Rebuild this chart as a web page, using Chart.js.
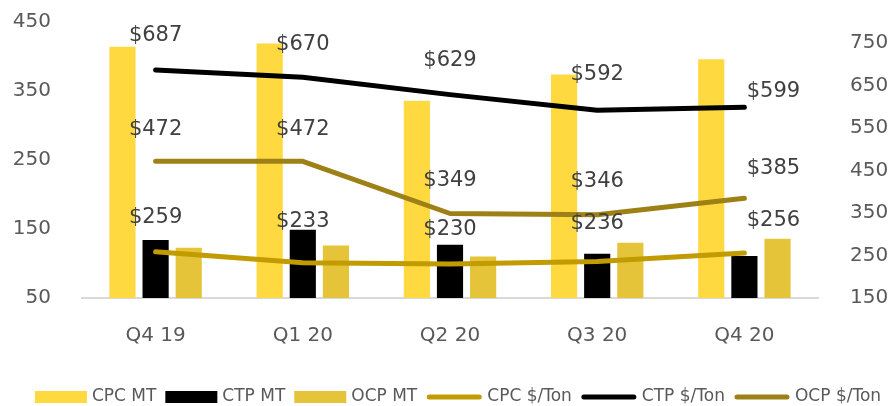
<!DOCTYPE html>
<html>
<head>
<meta charset="utf-8">
<script src="https://cdn.jsdelivr.net/npm/chart.js@4/dist/chart.umd.min.js"></script>
<style>
html,body{margin:0;padding:0;background:#fff;}
#wrap{width:893px;height:406px;position:relative;}
</style>
</head>
<body>
<div id="wrap"><canvas id="c"></canvas></div>
<script>
const categories = ['Q4 19', 'Q1 20', 'Q2 20', 'Q3 20', 'Q4 20'];
const cpcMT = [414, 419, 336, 374, 396];
const ctpMT = [134, 149, 127, 114, 111];
const ocpMT = [123, 126, 110, 130, 136];
const cpcTon = [259, 233, 230, 236, 256];
const ctpTon = [687, 670, 629, 592, 599];
const ocpTon = [472, 472, 349, 346, 385];
const leftTicks = [50, 150, 250, 350, 450];
const rightTicks = [150, 250, 350, 450, 550, 650, 750];

const FONT = "'DejaVu Sans', sans-serif";
const GREY = '#595959';

// label vertical offsets (styling only)
const labelStyle = {
  'CPC $/Ton': {dy: [34, 41, 34, 38, 32]},
  'CTP $/Ton': {dy: [34, 33, 34, 36, 16]},
  'OCP $/Ton': {dy: [32, 32, 33, 33, 30]}
};

const dataLabels = {
  id: 'dataLabels',
  afterDatasetsDraw(chart) {
    const ctx = chart.ctx;
    ctx.save();
    ctx.font = '21px ' + FONT;
    ctx.fillStyle = '#404040';
    ctx.textAlign = 'center';
    ctx.textBaseline = 'middle';
    chart.data.datasets.forEach((ds, i) => {
      if (ds.type !== 'line') return;
      const meta = chart.getDatasetMeta(i);
      const st = labelStyle[ds.label];
      meta.data.forEach((pt, j) => {
        const dx = j === meta.data.length - 1 ? 29 : 0;
        ctx.fillText('$' + ds.data[j], pt.x + dx, pt.y - st.dy[j]);
      });
    });
    ctx.restore();
  }
};

const customLegend = {
  id: 'customLegend',
  afterDraw(chart) {
    const ctx = chart.ctx;
    ctx.save();
    ctx.font = '17px ' + FONT;
    ctx.textBaseline = 'middle';
    const items = chart.data.datasets.map(ds => ({
      label: ds.label, type: ds.type, color: ds.type === 'line' ? ds.borderColor : ds.backgroundColor
    }));
    const boxW = 52, lineW = 56, gapT = 5, gapN = 9;
    let total = 0;
    items.forEach((it, k) => {
      it.tw = ctx.measureText(it.label).width;
      it.sw = it.type === 'line' ? lineW : boxW;
      total += it.sw + gapT + it.tw + (k < items.length - 1 ? gapN : 0);
    });
    let x = Math.max(4, Math.min(458 - total / 2, 889 - total));
    const cy = 397;
    items.forEach(it => {
      if (it.type === 'line') {
        ctx.strokeStyle = it.color;
        ctx.lineWidth = 5;
        ctx.lineCap = 'round';
        ctx.beginPath();
        ctx.moveTo(x + 3, cy);
        ctx.lineTo(x + it.sw - 3, cy);
        ctx.stroke();
      } else {
        ctx.fillStyle = it.color;
        ctx.fillRect(x, cy - 6, it.sw, 12);
      }
      x += it.sw + gapT;
      ctx.fillStyle = GREY;
      ctx.textAlign = 'left';
      ctx.fillText(it.label, x, cy);
      x += it.tw + gapN;
    });
    ctx.restore();
  }
};

const barCommon = {type: 'bar', yAxisID: 'y', order: 2, barPercentage: 0.79, categoryPercentage: 0.675};
const lineCommon = {type: 'line', yAxisID: 'y1', order: 1, borderWidth: 5, pointRadius: 0, pointHoverRadius: 0,
  tension: 0, borderCapStyle: 'round', borderJoinStyle: 'round', fill: false};

function fixV(width) {
  return function (s) { s.width = width; s.paddingTop = 0; s.paddingBottom = 0; };
}

new Chart(document.getElementById('c'), {
  data: {
    labels: categories,
    datasets: [
      Object.assign({label: 'CPC MT', data: cpcMT, backgroundColor: '#FFD93F'}, barCommon),
      Object.assign({label: 'CTP MT', data: ctpMT, backgroundColor: '#000000'}, barCommon),
      Object.assign({label: 'OCP MT', data: ocpMT, backgroundColor: '#E6C43A'}, barCommon),
      Object.assign({label: 'CPC $/Ton', data: cpcTon, borderColor: '#C19B00', backgroundColor: '#C19B00'}, lineCommon),
      Object.assign({label: 'CTP $/Ton', data: ctpTon, borderColor: '#000000', backgroundColor: '#000000'}, lineCommon),
      Object.assign({label: 'OCP $/Ton', data: ocpTon, borderColor: '#9E8116', backgroundColor: '#9E8116'}, lineCommon)
    ]
  },
  options: {
    responsive: true,
    maintainAspectRatio: false,
    animation: false,
    layout: {padding: {top: 22, bottom: 48, left: 0, right: 0}},
    plugins: {legend: {display: false}, tooltip: {enabled: false}},
    scales: {
      x: {
        grid: {display: false, drawTicks: false},
        border: {display: true, color: '#D9D9D9', width: 2},
        ticks: {color: GREY, font: {family: FONT, size: 20}, padding: 26, maxRotation: 0},
        afterFit(s) { s.height = 60; s.paddingLeft = 0; s.paddingRight = 0; }
      },
      y: {
        position: 'left', min: 50, max: 450,
        grid: {display: false, drawTicks: false},
        border: {display: false},
        ticks: {color: GREY, font: {family: FONT, size: 20}, padding: 31, stepSize: 100},
        afterBuildTicks(s) { s.ticks = leftTicks.map(v => ({value: v})); },
        afterFit: fixV(82)
      },
      y1: {
        position: 'right', min: 150, max: 800,
        grid: {display: false, drawTicks: false},
        border: {display: false},
        ticks: {color: GREY, font: {family: FONT, size: 20}, padding: 32, stepSize: 100},
        afterBuildTicks(s) { s.ticks = rightTicks.map(v => ({value: v})); },
        afterFit: fixV(75)
      }
    }
  },
  plugins: [dataLabels, customLegend]
});
</script>
</body>
</html>
